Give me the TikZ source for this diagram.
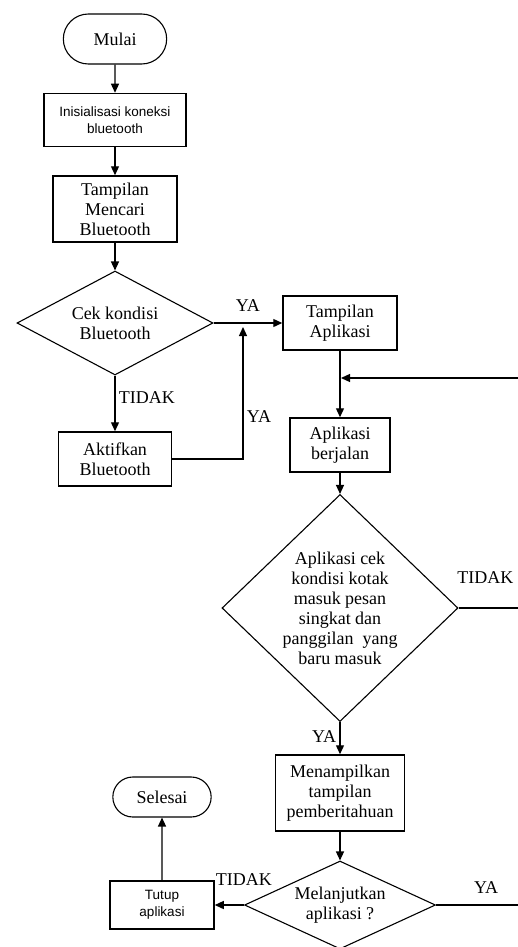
\documentclass[tikz,border=0pt]{standalone}
\usepackage{fontspec}
\setmainfont{Liberation Serif}
\newfontfamily\tahoma{Liberation Sans}
\usetikzlibrary{shapes.geometric, shapes.misc, arrows.meta}

\tikzset{
	proses/.style    = {draw, line width=1.5pt, rectangle, align=center, inner sep=2pt},
	terminal/.style  = {draw, line width=1.1pt, rounded rectangle, align=center},
	keputusan/.style = {draw, line width=1.1pt, diamond, align=center, inner sep=0pt},
	panah/.style     = {line width=1.3pt, -{Triangle[length=9pt,width=8pt]}},
	garis/.style     = {line width=1.3pt},
	kecil/.style     = {font=\tahoma\fontsize{13.5}{17}\selectfont},
}

\begin{document}
\begin{tikzpicture}[x=1pt, y=-1pt, font=\fontsize{18}{20}\selectfont]
		\fill[white] (0,0) rectangle (518,947);
		\useasboundingbox (0,0) rectangle (518,947);
		\clip (0,0) rectangle (518,947);
		% kolom kiri
		\node[terminal,  minimum width=110, minimum height=50] (mulai)  at (115, 39) {Mulai};
		\node[proses, kecil, minimum width=142, minimum height=53] (init) at (115,120) {Inisialisasi koneksi\\bluetooth};
		\node[proses,    minimum width=124, minimum height=66] (cari)   at (115,209) {Tampilan\\Mencari\\Bluetooth};
		\node[keputusan, minimum width=196, minimum height=104, aspect=1.9] (cek) at (115,323) {Cek kondisi\\Bluetooth};
		\node[proses,    minimum width=113, minimum height=54] (aktif)  at (115,459) {Aktifkan\\Bluetooth};
		% kolom kanan
		\node[proses,    minimum width=114, minimum height=54] (tampil) at (340,323) {Tampilan\\Aplikasi};
		\node[proses,    minimum width=100, minimum height=54] (jalan)  at (340,445) {Aplikasi\\berjalan};
		\node[keputusan, minimum width=236, minimum height=227, aspect=1.04] (cekpesan) at (340,608)
			{Aplikasi cek\\kondisi kotak\\masuk pesan\\singkat dan\\panggilan~~yang\\baru masuk};
		\node[proses,    minimum width=129, minimum height=76] (notif)  at (340,793) {Menampilkan\\tampilan\\pemberitahuan};
		\node[keputusan, minimum width=191, minimum height=88, aspect=2.17] (lanjut) at (340,905) {Melanjutkan\\aplikasi ?};
		\node[proses, kecil, minimum width=104, minimum height=48] (tutup) at (162,905) {Tutup\\aplikasi};
		\node[terminal,  minimum width=105, minimum height=40] (selesai) at (162,797) {Selesai};
		\coordinate (titikya) at (243,327);
		\coordinate (gabung)  at (341,378);
		\coordinate (kanan)   at (545,378);
		\draw[panah] (mulai) -- (init);
		\draw[panah] (init)  -- (cari);
		\draw[panah] (cari)  -- (cek);
		\draw[panah] (cek)   -- node[above=8pt]      (yaA)    {YA}    (tampil);
		\draw[panah] (cek)   -- node[right, pos=.4]  (tidakA) {TIDAK} (aktif);
		\draw[panah] (aktif) -| node[right, pos=.66] (yaB)    {YA}    (titikya);
		\draw[panah] (tampil) -- (jalan);
		\draw[panah] (jalan)  -- (cekpesan);
		\draw[garis] (cekpesan) -- node[pos=.31, above=20pt] (tidakB) {TIDAK} (cekpesan -| kanan);
		\draw[panah] (cekpesan) -- node[left, pos=.45] (yaC) {YA} (notif);
		\draw[panah] (notif)  -- (lanjut);
		\draw[panah] (lanjut) -- node[pos=0, above=15pt] (tidakC) {TIDAK} (tutup);
		\draw[panah] (tutup)  -- (selesai);
		\draw[panah] (lanjut) -| node[pos=.23, above=8pt] (yaD) {YA} (kanan) -- (gabung); % kembali ke aplikasi
	\end{tikzpicture}
\end{document}
